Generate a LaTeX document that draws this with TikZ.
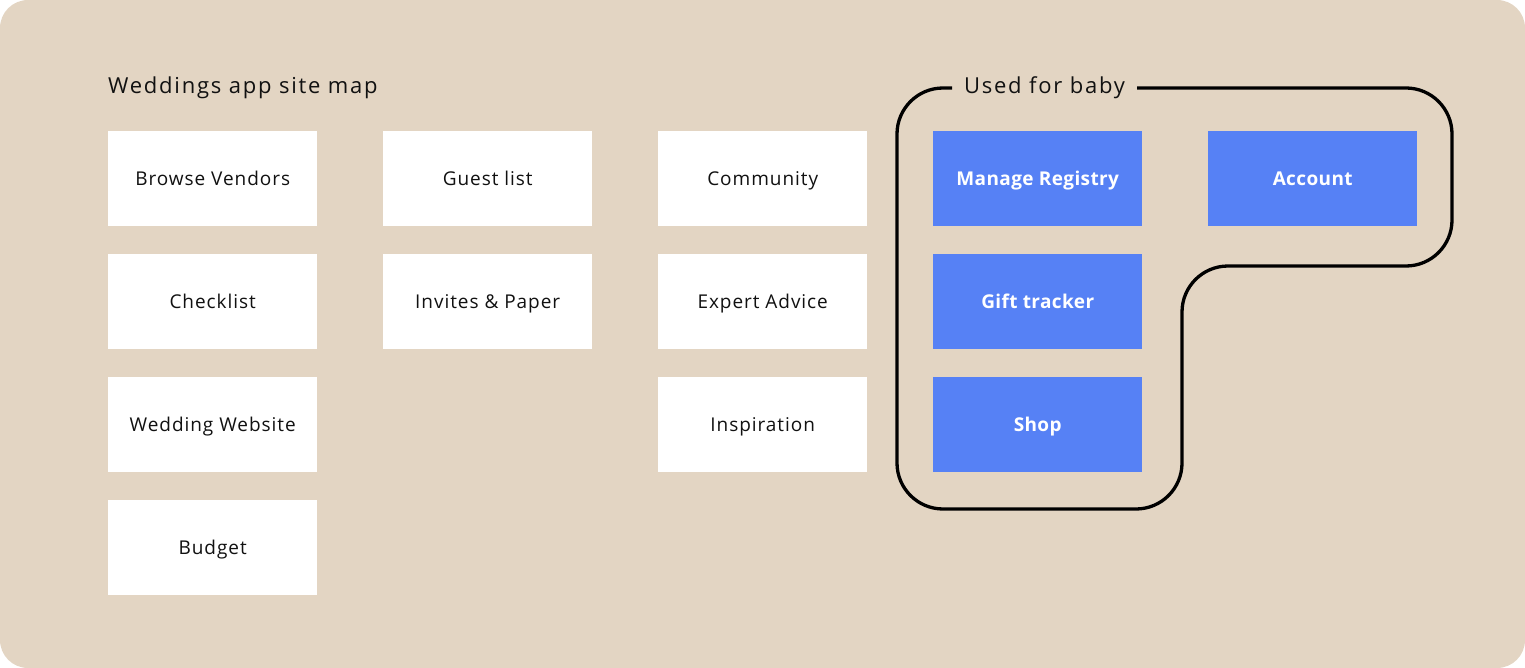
\documentclass[tikz,border=0pt]{standalone}
\usepackage{fontspec}
\setmainfont{Open Sans}
\newfontfamily\titlefont[LetterSpace=8]{Open Sans}
\newfontfamily\boxfont[LetterSpace=5]{Open Sans}
\newfontfamily\boldfont[LetterSpace=2,UprightFont=* Bold]{Open Sans}
\definecolor{bgc}{HTML}{E3D5C3}
\definecolor{bluec}{HTML}{5681F5}
\definecolor{txt}{HTML}{111111}
\begin{document}
\begin{tikzpicture}[x=1pt,y=-1pt,
  pagebox/.style={anchor=north west, minimum width=209pt, minimum height=95pt, inner sep=0pt, text height=13.5pt, text depth=0pt, fill=white, text=txt, font=\boxfont\fontsize{19}{22}\selectfont},
  babybox/.style={pagebox, fill=bluec, text=white, font=\boldfont\fontsize{19}{22}\selectfont},
  heading/.style={inner sep=0pt, text=txt, font=\titlefont\fontsize{22}{26}\selectfont},
  outline/.style={line width=3.3pt, rounded corners=46pt, draw=black}]
\useasboundingbox (0,0) rectangle (1525,668);
\fill[bgc, rounded corners=28pt] (0,0) rectangle (1525,668);
\node[heading, anchor=base west] (title) at (108,94) {Weddings app site map};
% column 1
\node[pagebox] (bv) at (108,131) {Browse Vendors};
\node[pagebox] (cl) at (108,254) {Checklist};
\node[pagebox] (ww) at (108,377) {Wedding Website};
\node[pagebox] (bu) at (108,500) {Budget};
% column 2
\node[pagebox] (gl) at (383,131) {Guest list};
\node[pagebox] (ip) at (383,254) {Invites \& Paper};
% column 3
\node[pagebox] (co) at (658,131) {Community};
\node[pagebox] (ea) at (658,254) {Expert Advice};
\node[pagebox] (in) at (658,377) {Inspiration};
% baby
\node[babybox] (mr) at (933,131) {Manage Registry};
\node[babybox] (gt) at (933,254) {Gift tracker};
\node[babybox] (sh) at (933,377) {Shop};
\node[babybox] (ac) at (1208,131) {Account};
% group outline
\coordinate (ga) at (952,88);
\coordinate (gb) at (1137,88);
\draw[outline] (ga) -- (897,88) -- (897,509) -- (1182,509) -- (1182,266) -- (1452,266) -- (1452,88) -- (gb);
\node[heading, anchor=base] (grp) at (1044.5,94) {Used for baby};
\end{tikzpicture}
\end{document}
